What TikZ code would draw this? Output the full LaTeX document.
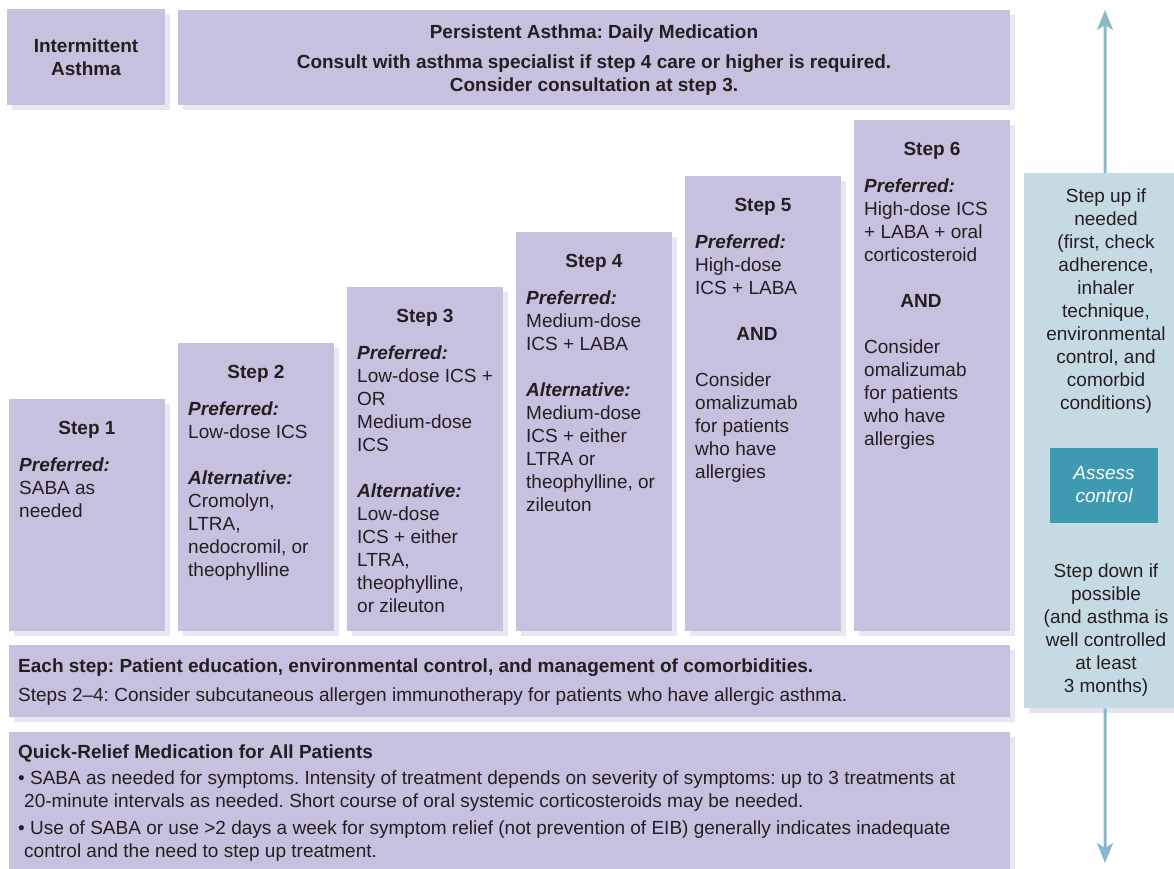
\documentclass[tikz,border=0pt]{standalone}
\usepackage{fontspec}
\setmainfont{Liberation Sans}
\usetikzlibrary{shadows,arrows.meta}
\definecolor{boxcol}{HTML}{C7C0DF}
\definecolor{shadcol}{HTML}{E8E6F2}
\definecolor{bluecol}{HTML}{C5DAE2}
\definecolor{bshad}{HTML}{E2E4EE}
\definecolor{assesscol}{HTML}{3D9AB1}
\definecolor{arrcol}{HTML}{88B9CB}
\definecolor{txtcol}{HTML}{231F20}
\newcommand{\pref}{\textbf{\textit{Preferred:}}}
\newcommand{\altn}{\textbf{\textit{Alternative:}}}
\frenchspacing
\begin{document}
\begin{tikzpicture}[x=1pt,y=-1pt,
  every node/.style={text=txtcol},
  pbox/.style={fill=boxcol, inner sep=0pt, anchor=north west,
    drop shadow={shadow xshift=5pt,shadow yshift=-5pt,fill=shadcol,opacity=1}},
  bbox/.style={fill=bluecol, inner sep=0pt, anchor=north west,
    drop shadow={shadow xshift=5pt,shadow yshift=-5pt,fill=bshad,opacity=1}},
  abox/.style={fill=assesscol, inner sep=0pt, anchor=north west},
  txt/.style={font=\fontsize{19}{23}\selectfont, inner sep=0pt},
  btxt/.style={font=\fontsize{19}{23}\selectfont\bfseries, inner sep=0pt},
  body/.style={txt, anchor=north west, align=left, yshift=16.1pt},
  cbody/.style={txt, anchor=north, align=center, yshift=16.1pt},
  cbold/.style={btxt, anchor=north, align=center, yshift=16.1pt},
  steptitle/.style={btxt, anchor=base},
  arr/.style={draw=arrcol, line width=3pt, -{Stealth[length=20pt,width=16pt,inset=5pt]}}
]
\useasboundingbox (0,0) rectangle (1174,868);

% top boxes
\node[pbox, minimum width=158pt, minimum height=96pt] (int) at (7,9) {};
\node[cbold] (intt) at (86,52) {\strut Intermittent\\Asthma};
\node[pbox, minimum width=832pt, minimum height=95pt] (pers) at (178,10) {};
\node[steptitle] (perst1) at (594,38) {Persistent Asthma: Daily Medication};
\node[cbold] (perst2) at (594,68) {\strut Consult with asthma specialist if step 4 care or higher is required.\\Consider consultation at step 3.};

% step boxes
\node[pbox, minimum width=156pt, minimum height=232pt] (s1) at (9,399) {};
\node[pbox, minimum width=156pt, minimum height=288pt] (s2) at (178,343) {};
\node[pbox, minimum width=156pt, minimum height=344pt] (s3) at (347,287) {};
\node[pbox, minimum width=156pt, minimum height=399pt] (s4) at (516,232) {};
\node[pbox, minimum width=156pt, minimum height=455pt] (s5) at (685,176) {};
\node[pbox, minimum width=156pt, minimum height=511pt] (s6) at (854,120) {};

\node[steptitle] (s1t) at (87,434) {Step 1};
\node[steptitle] (s2t) at (256,378) {Step 2};
\node[steptitle] (s3t) at (425,322) {Step 3};
\node[steptitle] (s4t) at (594,267) {Step 4};
\node[steptitle] (s5t) at (763,211) {Step 5};
\node[steptitle] (s6t) at (932,155) {Step 6};

\node[body] (s1b) at (19,471) {\strut\pref\\SABA as\\needed};
\node[body] (s2b) at (188,415) {\strut\pref\\Low-dose ICS\\[23pt]\altn\\Cromolyn,\\LTRA,\\nedocromil, or\\theophylline};
\node[body] (s3b) at (357,359) {\strut\pref\\Low-dose ICS +\\OR\\Medium-dose\\ICS\\[23pt]\altn\\Low-dose\\ICS + either\\LTRA,\\theophylline,\\or zileuton};
\node[body] (s4b) at (526,304) {\strut\pref\\Medium-dose\\ICS + LABA\\[23pt]\altn\\Medium-dose\\ICS + either\\LTRA or\\theophylline, or\\zileuton};
\node[body] (s5b) at (695,248) {\strut\pref\\High-dose\\ICS + LABA};
\node[steptitle] (s5and) at (757,340) {AND};
\node[body] (s5c) at (695,386) {\strut Consider\\omalizumab\\for patients\\who have\\allergies};
\node[body] (s6b) at (864,192) {\strut\pref\\High-dose ICS\\+ LABA + oral\\corticosteroid};
\node[steptitle] (s6and) at (921,307) {AND};
\node[body] (s6c) at (864,353) {\strut Consider\\omalizumab\\for patients\\who have\\allergies};

% bottom boxes
\node[pbox, minimum width=1001pt, minimum height=72pt] (each) at (9,645) {};
\node[btxt, anchor=base west] (eacht) at (18,672) {Each step: Patient education, environmental control, and management of comorbidities.};
\node[txt, anchor=base west] (eachs) at (18,701) {Steps 2–4: Consider subcutaneous allergen immunotherapy for patients who have allergic asthma.};

\node[pbox, minimum width=1001pt, minimum height=150pt] (qr) at (9,732) {};
\node[btxt, anchor=base west] (qrt) at (18,758) {Quick-Relief Medication for All Patients};
\node[body] (qr1) at (18,784) {\strut• SABA as needed for symptoms. Intensity of treatment depends on severity of symptoms: up to 3 treatments at\\\hspace*{6pt}20-minute intervals as needed. Short course of oral systemic corticosteroids may be needed.};
\node[body] (qr2) at (18,834) {\strut• Use of SABA or use >2 days a week for symptom relief (not prevention of EIB) generally indicates inadequate\\\hspace*{6pt}control and the need to step up treatment.};

% right control column
\node[bbox, minimum width=162pt, minimum height=535pt] (ctrl) at (1024,173) {};
\node[cbody] (up) at (1106,202) {\strut Step up if\\needed\\(first, check\\adherence,\\inhaler\\technique,\\environmental\\control, and\\comorbid\\conditions)};
\node[abox, minimum width=108pt, minimum height=75pt] (assess) at (1050,448) {};
\node[txt, anchor=north, align=center, yshift=16.1pt, text=white, font=\fontsize{19}{23}\selectfont\itshape] (assesst) at (1104,479) {\strut Assess\\control};
\node[cbody] (down) at (1106,577) {\strut Step down if\\possible\\(and asthma is\\well controlled\\at least\\3 months)};

\coordinate (uptip) at (1105,10);
\coordinate (downtip) at (1105,863);
\draw[arr] (ctrl.north) -- (uptip);
\draw[arr] (ctrl.south) -- (downtip);
\end{tikzpicture}
\end{document}
